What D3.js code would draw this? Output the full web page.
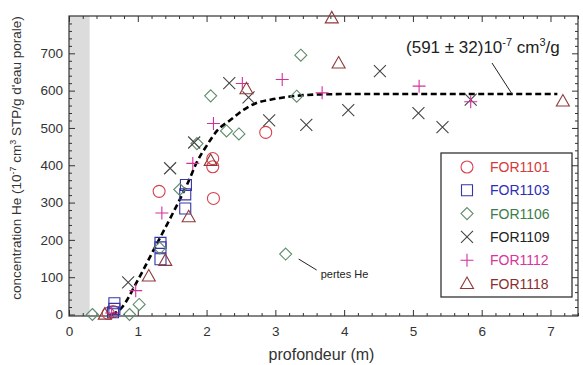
<!DOCTYPE html>
<html>
<head>
<meta charset="utf-8">
<script src="https://cdn.jsdelivr.net/npm/d3@7"></script>
<style>
  body { margin: 0; background: #fff; }
  text { font-family: Arial, "Liberation Sans", sans-serif; }
</style>
</head>
<body>
<div id="chart"></div>
<script>
// series data: [depth (m), He concentration]
var for1101 = [[0.57, 3], [0.64, 8], [1.31, 330], [2.10, 311], [2.09, 418], [2.09, 396], [2.86, 488]];
var for1103 = [[0.66, 30], [0.66, 15], [0.64, 6], [1.33, 192], [1.33, 180], [1.33, 148], [1.70, 347], [1.69, 322], [1.69, 284]];
var for1106 = [[0.34, 0], [0.88, 0], [1.02, 27], [1.32, 178], [1.61, 335], [1.86, 458], [2.06, 586], [2.29, 492], [2.47, 484], [3.31, 585], [3.37, 695], [3.15, 162]];
var for1109 = [[0.86, 86], [1.47, 392], [1.82, 461], [2.33, 620], [2.61, 582], [2.91, 520], [3.45, 508], [4.06, 548], [4.52, 652], [5.08, 540], [5.43, 502], [5.84, 576]];
var for1112 = [[0.62, 4], [0.97, 64], [1.35, 272], [1.80, 405], [2.10, 512], [2.52, 619], [3.10, 630], [3.68, 594], [5.09, 612], [5.84, 570]];
var for1118 = [[0.52, 1], [1.16, 103], [1.40, 145], [1.74, 262], [2.06, 413], [2.58, 605], [3.82, 795], [3.92, 674], [7.18, 572]];

// fitted curve (dashed)
var fitX = [0.62, 0.75, 1.0, 1.25, 1.5, 1.75, 1.85, 2.0, 2.15, 2.35, 2.55, 2.7, 3.0, 3.3, 3.7, 4.2, 7.1];
var fitY = [0, 15, 92, 180, 268, 362, 405, 452, 492, 522, 550, 565, 578, 586, 590, 591, 591];

var seriesNames = ["FOR1101", "FOR1103", "FOR1106", "FOR1109", "FOR1112", "FOR1118"];
var xMajor = [0, 1, 2, 3, 4, 5, 6, 7];
var yMajor = [0, 100, 200, 300, 400, 500, 600, 700];

var W = 583, H = 365;
var margin = { top: 16, right: 5, bottom: 49, left: 69 };
var width = W - margin.left - margin.right,
    height = H - margin.top - margin.bottom;

var svg = d3.select("#chart").append("svg")
    .attr("width", W).attr("height", H)
  .append("g")
    .attr("transform", "translate(" + margin.left + "," + margin.top + ")");

var x = d3.scaleLinear().domain([0, 7.4]).range([0, width]);
var y = d3.scaleLinear().domain([-4, 800]).range([height, 0]);

// grey band near the surface
svg.append("rect")
    .attr("x", x(0)).attr("y", 0)
    .attr("width", x(0.3) - x(0)).attr("height", height)
    .attr("fill", "#dcdcdc");

var xMinor = d3.range(0, 7.41, 0.2).filter(function (d) { return Math.abs(d - Math.round(d)) > 0.01; });
var yMinor = d3.range(0, 801, 20).filter(function (d) { return d % 100 != 0; });

function styleAxis(g) {
    g.select(".domain").remove();
    g.selectAll("line").attr("stroke", "#333");
    g.selectAll("text").attr("fill", "#333").style("font-size", "13.5px");
}

// ticks point inward on all four sides
svg.append("g").call(d3.axisLeft(y).tickValues(yMajor).tickSize(-6).tickPadding(6)).call(styleAxis);
svg.append("g").call(d3.axisLeft(y).tickValues(yMinor).tickSize(-3).tickFormat("")).call(styleAxis);
svg.append("g").attr("transform", "translate(" + width + ",0)")
    .call(d3.axisRight(y).tickValues(yMajor).tickSize(-6).tickFormat("")).call(styleAxis);
svg.append("g").attr("transform", "translate(" + width + ",0)")
    .call(d3.axisRight(y).tickValues(yMinor).tickSize(-3).tickFormat("")).call(styleAxis);
svg.append("g").attr("transform", "translate(0," + height + ")")
    .call(d3.axisBottom(x).tickValues(xMajor).tickSize(-6).tickPadding(10)).call(styleAxis);
svg.append("g").attr("transform", "translate(0," + height + ")")
    .call(d3.axisBottom(x).tickValues(xMinor).tickSize(-3).tickFormat("")).call(styleAxis);
svg.append("g")
    .call(d3.axisTop(x).tickValues(xMajor).tickSize(-6).tickFormat("")).call(styleAxis);
svg.append("g")
    .call(d3.axisTop(x).tickValues(xMinor).tickSize(-3).tickFormat("")).call(styleAxis);

// frame
svg.append("rect")
    .attr("width", width).attr("height", height)
    .attr("fill", "none").attr("stroke", "#333").attr("stroke-width", 1.2);

// axis titles
svg.append("text")
    .attr("x", width / 2 - 2).attr("y", height + 44)
    .attr("text-anchor", "middle")
    .style("font-size", "16px").attr("fill", "#333")
    .text("profondeur (m)");

var yt = svg.append("text")
    .attr("transform", "translate(" + (-48) + "," + (height / 2 - 8) + ") rotate(-90)")
    .attr("text-anchor", "middle")
    .style("font-size", "13.5px").attr("fill", "#333");
yt.append("tspan").text("concentration He (10");
yt.append("tspan").attr("dy", -5).style("font-size", "9px").text("-7");
yt.append("tspan").attr("dy", 5).text(" cm");
yt.append("tspan").attr("dy", -5).style("font-size", "9px").text("3");
yt.append("tspan").attr("dy", 5).text(" STP/g d'eau porale)");

// dashed fit curve
var fit = fitX.map(function (d, i) { return [d, fitY[i]]; });
svg.append("path")
    .datum(fit)
    .attr("fill", "none")
    .attr("stroke", "#000")
    .attr("stroke-width", 2.6)
    .attr("stroke-dasharray", "6,3.5")
    .attr("d", d3.line().curve(d3.curveMonotoneX)
        .x(function (d) { return x(d[0]); })
        .y(function (d) { return y(d[1]); }));

// marker shapes
var colors = {
    FOR1101: "#d8404c", FOR1103: "#3434a8", FOR1106: "#5f8c6c",
    FOR1109: "#444444", FOR1112: "#d4309a", FOR1118: "#8e3a3a"
};
var textColors = {
    FOR1101: "#d63a3a", FOR1103: "#2e2eb4", FOR1106: "#3c7c48",
    FOR1109: "#222222", FOR1112: "#d8349a", FOR1118: "#8a2e2e"
};
var shapes = {
    FOR1101: "M0,-6A6,6 0 1,1 0,6A6,6 0 1,1 0,-6Z",
    FOR1103: "M-5.5,-5.5H5.5V5.5H-5.5Z",
    FOR1106: "M0,-6L6,0L0,6L-6,0Z",
    FOR1109: "M-6,-6L6,6M-6,6L6,-6",
    FOR1112: "M-6.5,0H6.5M0,-6.5V6.5",
    FOR1118: "M0,-6.5L6.5,5L-6.5,5Z"
};
var seriesData = [for1101, for1103, for1106, for1109, for1112, for1118];

seriesNames.forEach(function (name, i) {
    svg.append("g").selectAll("path")
        .data(seriesData[i])
        .enter().append("path")
        .attr("transform", function (d) { return "translate(" + x(d[0]) + "," + y(d[1]) + ")"; })
        .attr("d", shapes[name])
        .attr("fill", "none")
        .attr("stroke", colors[name])
        .attr("stroke-width", 1.1);
});

// annotations
var ann = svg.append("text")
    .attr("x", x(4.9)).attr("y", 37)
    .style("font-size", "17px").attr("fill", "#222");
ann.append("tspan").text("(591 \u00b1 32)10");
ann.append("tspan").attr("dy", -7).style("font-size", "11px").text("-7");
ann.append("tspan").attr("dy", 7).text(" cm");
ann.append("tspan").attr("dy", -7).style("font-size", "11px").text("3");
ann.append("tspan").attr("dy", 7).text("/g");

svg.append("line")
    .attr("x1", 423).attr("y1", 47).attr("x2", 443).attr("y2", y(591))
    .attr("stroke", "#222").attr("stroke-width", 1);

svg.append("line")
    .attr("x1", x(3.15) + 13).attr("y1", y(162) + 5)
    .attr("x2", x(3.15) + 31).attr("y2", y(162) + 16)
    .attr("stroke", "#222").attr("stroke-width", 1);
svg.append("text")
    .attr("x", x(3.15) + 35).attr("y", y(162) + 24)
    .style("font-size", "11px").attr("fill", "#222")
    .text("pertes He");

// legend
var lg = svg.append("g").attr("transform", "translate(" + (441 - margin.left) + "," + (153 - margin.top) + ")");
lg.append("rect")
    .attr("width", 131).attr("height", 144)
    .attr("fill", "#fff").attr("stroke", "#222").attr("stroke-width", 1.2);
seriesNames.forEach(function (name, i) {
    var cy = 14 + i * 23.3;
    lg.append("path")
        .attr("transform", "translate(26," + cy + ")")
        .attr("d", shapes[name])
        .attr("fill", "none").attr("stroke", colors[name]).attr("stroke-width", 1.1);
    lg.append("text")
        .attr("x", 49).attr("y", cy + 5)
        .style("font-size", "14px").attr("fill", textColors[name])
        .text(name);
});
</script>
</body>
</html>
